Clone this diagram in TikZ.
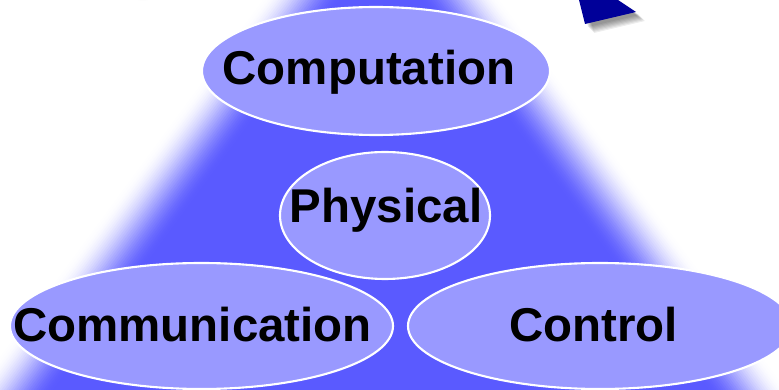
\documentclass[tikz,border=0pt]{standalone}
\usepackage{fontspec}
\setmainfont{Liberation Sans}
\usetikzlibrary{shapes.geometric}

\definecolor{pyramid}{RGB}{90,90,255}
\definecolor{topicfill}{RGB}{153,153,255}
\definecolor{navy}{RGB}{0,0,153}

\tikzset{
  topic/.style={ellipse, draw=white, line width=0.6pt, fill=topicfill, inner sep=0pt},
  tag/.style={font=\bfseries\fontsize{13.5}{16}\selectfont, anchor=base, inner sep=0pt},
}

\begin{document}
\begin{tikzpicture}
    \useasboundingbox (0,0) rectangle (7.79,-3.90);
    \clip (0,0) rectangle (7.79,-3.90);
    \fill[white] (0,0) rectangle (7.79,-3.90);

    % pyramid with a soft edge: layers from light (outside) to full blue (inside)
    \foreach \k in {0,...,32}{
        \pgfmathsetmacro\d{-32+2*\k}
        \pgfmathsetmacro\t{\k/32}
        \pgfmathsetmacro\f{100*\t*\t*(3-2*\t)}
        \pgfmathsetmacro\ay{1.09-0.01687*\d}
        \pgfmathsetmacro\hw{0.736*(\ay+7)}
        \fill[pyramid!\f!white] (3.81,\ay) -- (3.81-\hw,-7) -- (3.81+\hw,-7) -- cycle;
    }

    % faint shadow left at the top
    \foreach \r in {0.06,0.09}
        \fill[black, opacity=0.02] (1.43,0.04) ellipse ({\r+0.03} and {\r/2});

    % arrow tip at the top right, with its shadow
    \foreach \s in {3,...,9}
        \fill[black, opacity=0.07, xshift=\s*0.01cm, yshift=-\s*0.01cm]
            (5.765,0.10) -- (6.03,0.10) -- (6.36,-0.12) -- (5.85,-0.24) -- cycle;
    \fill[navy] (5.765,0.10) -- (6.03,0.10) -- (6.36,-0.12) -- (5.85,-0.24) -- cycle;

    % the four ellipses
    \node[topic, minimum width=3.48cm, minimum height=1.28cm] (comp) at (3.76,-0.71) {};
    \node[topic, minimum width=2.10cm, minimum height=1.27cm] (phys) at (3.85,-2.155) {};
    \node[topic, minimum width=3.83cm, minimum height=1.26cm] (comm) at (2.015,-3.26) {};
    \node[topic, minimum width=3.84cm, minimum height=1.26cm] (ctrl) at (6.00,-3.26) {};

    \node[tag] (comp-txt) at (3.69,-0.845) {Computation};
    \node[tag] (phys-txt) at (3.86,-2.23) {Physical};
    \node[tag] (comm-txt) at (1.925,-3.42) {Communication};
    \node[tag] (ctrl-txt) at (5.935,-3.41) {Control};
\end{tikzpicture}
\end{document}
